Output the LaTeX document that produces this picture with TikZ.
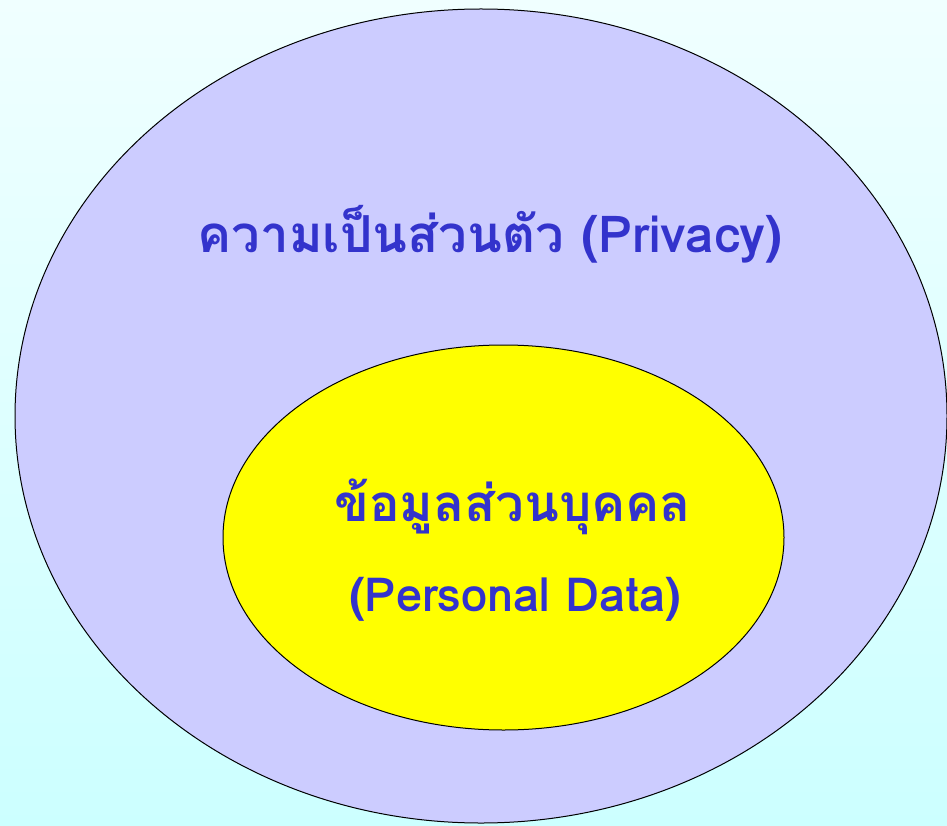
\documentclass[tikz,border=0pt]{standalone}
\usepackage{fontspec}
\newfontfamily\thaifont[Script=Thai]{Loma}
\definecolor{bgtop}{RGB}{240,255,255}
\definecolor{bgbot}{RGB}{204,255,255}
\definecolor{outerfill}{RGB}{204,204,255}
\definecolor{innerfill}{RGB}{255,255,0}
\definecolor{txt}{RGB}{51,51,204}
\tikzset{
  lbl/.style={text=txt, font=\thaifont\bfseries\fontsize{50}{60}\selectfont, anchor=base, inner sep=0pt},
  ring/.style={draw=black, line width=1pt}
}
\begin{document}
\begin{tikzpicture}[x=1pt,y=-1pt]
\useasboundingbox (0,0) rectangle (947,826);
\shade[top color=bgtop, bottom color=bgbot] (0,0) rectangle (947,826);
\begin{scope}
\clip (0,0) rectangle (947,826);
\draw[ring, fill=outerfill] (481,416) ellipse [x radius=466, y radius=407];
\end{scope}
\draw[ring, fill=innerfill] (503.5,537.5) ellipse [x radius=280.5, y radius=192.5];
\node[lbl, font=\thaifont\bfseries\fontsize{51}{60}\selectfont] (privacy) at (490,253) {ความเป็นส่วนตัว (Privacy)};
\node[lbl, font=\thaifont\bfseries\fontsize{51}{60}\selectfont] (pdth) at (512.5,521) {ข้อมูลส่วนบุคคล};
\node[lbl, font=\thaifont\bfseries\fontsize{47}{56}\selectfont] (pden) at (515,611) {(Personal Data)};
\end{tikzpicture}
\end{document}
